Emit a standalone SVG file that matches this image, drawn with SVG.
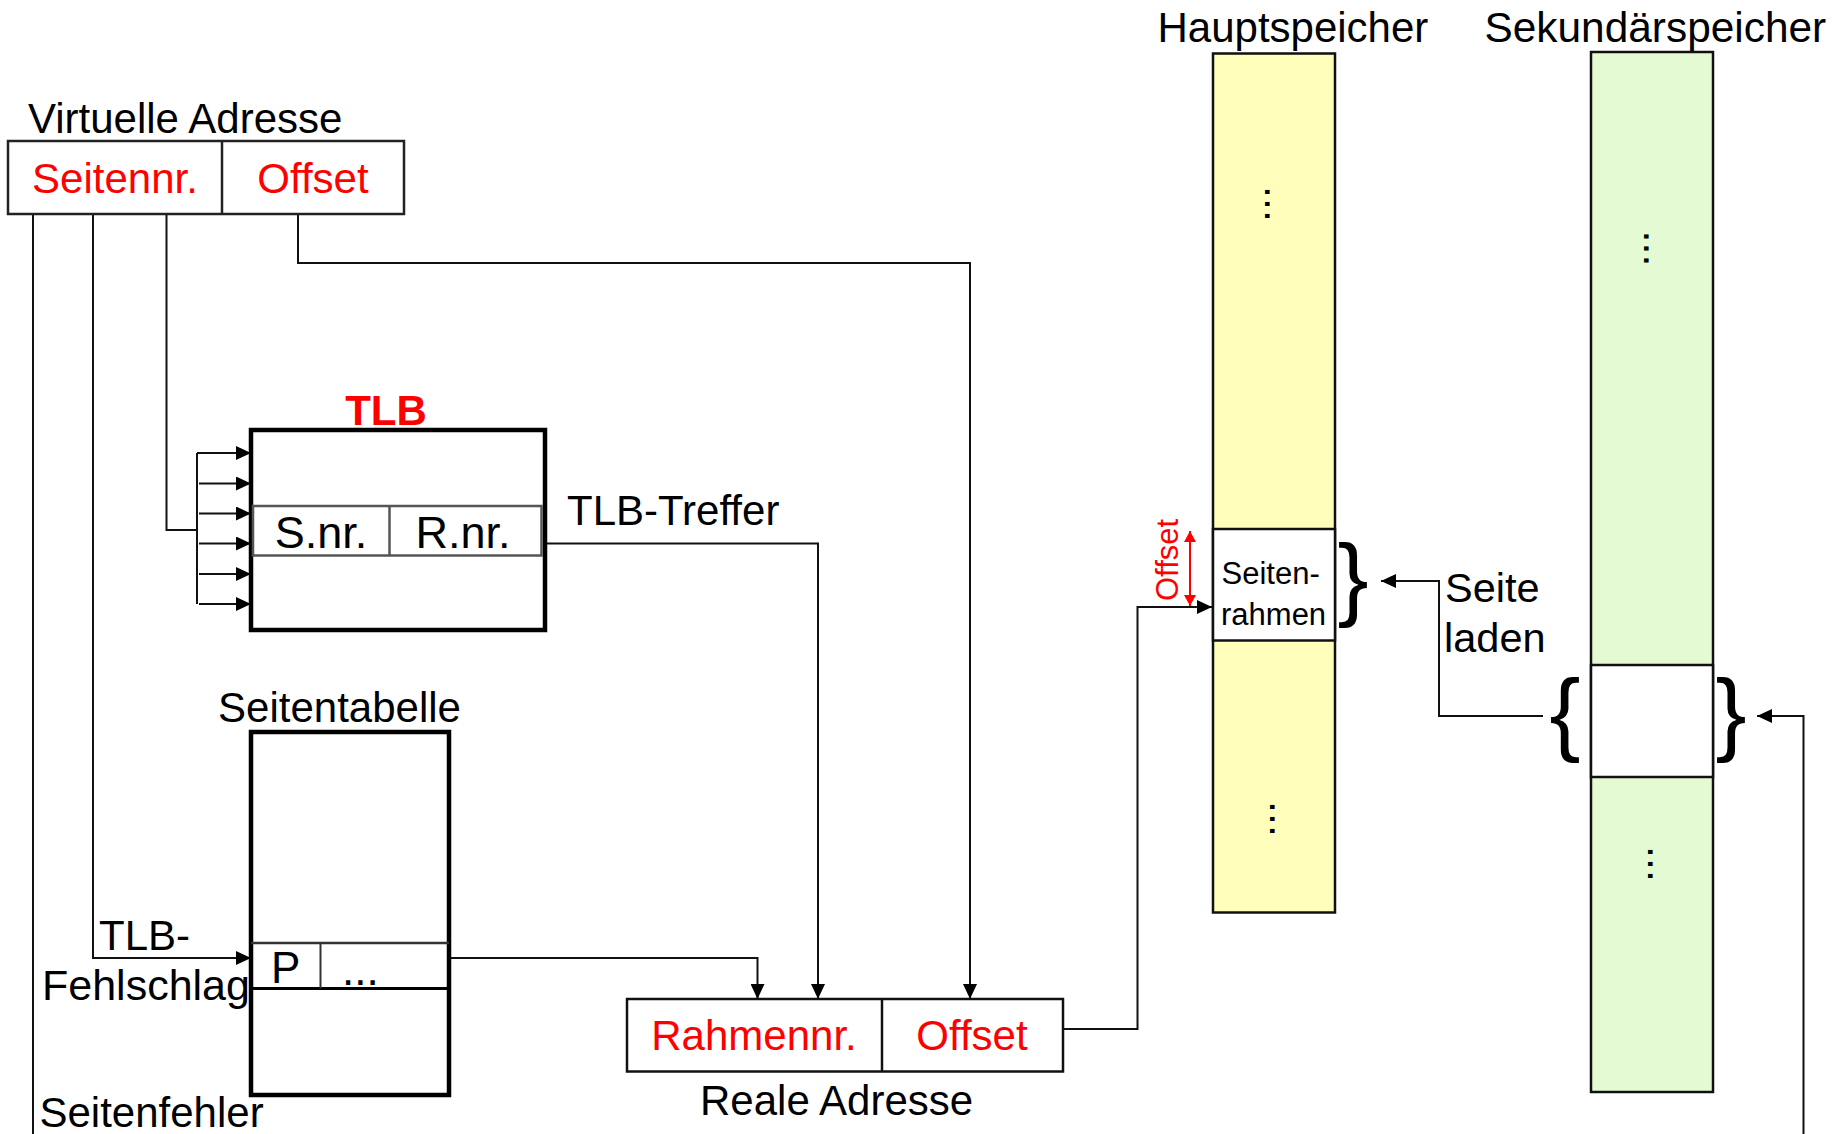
<svg xmlns="http://www.w3.org/2000/svg" width="1848" height="1134" viewBox="0 0 1848 1134">
<style>
text{font-family:"Liberation Sans",Arial,sans-serif;font-size:42px;fill:#000}
.red{fill:#ff0000}
.box{fill:#fff;stroke:#222;stroke-width:2.5}
.thick{fill:#fff;stroke:#000;stroke-width:4.5}
.cell{stroke:#555;stroke-width:2.5;fill:none}
.ln{fill:none;stroke:#111;stroke-width:2}
.arr{fill:none;stroke:#111;stroke-width:2;marker-end:url(#ah)}
.dots{font-size:43px}
.brace{font-size:93px}
</style>
<defs>
<marker id="ah" markerUnits="userSpaceOnUse" markerWidth="16" markerHeight="14" refX="15" refY="7" orient="auto">
<path d="M0,0 L15,7 L0,14 z" fill="#000"/>
</marker>
<marker id="rah" markerUnits="userSpaceOnUse" markerWidth="12" markerHeight="12" refX="11" refY="6" orient="auto-start-reverse">
<path d="M0,0 L11,6 L0,12 z" fill="#ff0000"/>
</marker>
</defs>
<rect width="1848" height="1134" fill="#fff"/>

<g id="connectors">
<path class="ln" d="M33,214 V1134"/>
<path class="arr" d="M93,214 V958 H251"/>
<path class="ln" d="M166.5,214 V530 H197"/>
<path class="ln" d="M197,453 V604"/>
<path class="arr" d="M197,453 H251"/>
<path class="arr" d="M199,483.5 H251"/>
<path class="arr" d="M199,513.5 H251"/>
<path class="arr" d="M199,543.5 H251"/>
<path class="arr" d="M199,574 H251"/>
<path class="arr" d="M199,604 H251"/>
<path class="arr" d="M298,214 V263 H970 V999"/>
<path class="arr" d="M545,543.5 H818 V999"/>
<path class="arr" d="M449,958 H757.5 V999"/>
<path class="arr" d="M1063,1029 H1137.5 V607 H1212"/>
<path class="arr" d="M1543,716 H1439 V581 H1381"/>
<path class="arr" d="M1803.5,1134 V716 H1757"/>
<path d="M1190,531 V606" fill="none" stroke="#ff0000" stroke-width="2" marker-start="url(#rah)" marker-end="url(#rah)"/>
<text x="567" y="525">TLB-Treffer</text>
<text x="99" y="950">TLB-</text>
<text x="42" y="1000" style="font-size:43px">Fehlschlag</text>
<text x="39.5" y="1127">Seitenfehler</text>
<text x="1445" y="601.5" style="font-size:41.5px">Seite</text>
<text x="1444" y="651.5" style="font-size:41.5px">laden</text>
<text class="red" transform="translate(1178,601) rotate(-90)" style="font-size:31px">Offset</text>
</g>

<g id="virtuelle-adresse">
<text x="28" y="133">Virtuelle Adresse</text>
<rect class="box" x="8" y="141" width="396" height="73"/>
<line class="cell" x1="222" y1="141" x2="222" y2="214" style="stroke:#222"/>
<text class="red" x="115" y="193" text-anchor="middle">Seitennr.</text>
<text class="red" x="313" y="193" text-anchor="middle">Offset</text>
</g>

<g id="tlb">
<text x="386" y="425" text-anchor="middle" class="red" style="font-weight:bold">TLB</text>
<rect class="thick" x="251" y="430" width="294" height="200"/>
<rect class="cell" x="253" y="506" width="288.5" height="49.5"/>
<line class="cell" x1="389.5" y1="506" x2="389.5" y2="555.5"/>
<text x="321" y="548" text-anchor="middle" style="font-size:45px">S.nr.</text>
<text x="463" y="548" text-anchor="middle" style="font-size:45px">R.nr.</text>
</g>

<g id="seitentabelle">
<text x="339.5" y="721.5" text-anchor="middle">Seitentabelle</text>
<rect class="thick" x="251" y="732" width="198" height="363"/>
<line x1="251" y1="943" x2="449" y2="943" stroke="#333" stroke-width="2.5"/>
<line x1="251" y1="988.5" x2="449" y2="988.5" stroke="#000" stroke-width="3"/>
<line x1="320.5" y1="943" x2="320.5" y2="988.5" stroke="#333" stroke-width="2"/>
<text x="271" y="983" style="font-size:44px">P</text>
<text x="342" y="985" style="font-size:44px">...</text>
</g>

<g id="reale-adresse">
<rect class="box" x="627" y="999" width="436" height="72.5" style="stroke:#111"/>
<line x1="882" y1="999" x2="882" y2="1071.5" stroke="#111" stroke-width="2.5"/>
<text class="red" x="754" y="1050" text-anchor="middle">Rahmennr.</text>
<text class="red" x="972" y="1050" text-anchor="middle">Offset</text>
<text x="700" y="1115">Reale Adresse</text>
</g>

<g id="hauptspeicher">
<text x="1157.5" y="42">Hauptspeicher</text>
<rect x="1213" y="53.5" width="122" height="859" fill="#ffffbb" stroke="#111" stroke-width="2.5"/>
<rect x="1213" y="529" width="122" height="111.5" fill="#fff" stroke="#111" stroke-width="2.5"/>
<text class="dots" transform="translate(1265.4,186) rotate(90)">...</text>
<text class="dots" transform="translate(1269.6,801) rotate(90)">...</text>
<text x="1221.5" y="583.5" style="font-size:31px">Seiten-</text>
<text x="1221" y="625" style="font-size:31px">rahmen</text>
<text class="brace" x="1353" y="608.5" text-anchor="middle">}</text>
</g>

<g id="sekundaerspeicher">
<text x="1484.5" y="42" style="font-size:42.4px">Sekundärspeicher</text>
<rect x="1591" y="52" width="122" height="1040" fill="#e4fad3" stroke="#111" stroke-width="2.5"/>
<rect x="1591" y="665" width="122" height="112" fill="#fff" stroke="#111" stroke-width="2.5"/>
<text class="dots" transform="translate(1643.8,230.5) rotate(90)">...</text>
<text class="dots" transform="translate(1647.8,846) rotate(90)">...</text>
<text class="brace" x="1565" y="744" text-anchor="middle">{</text>
<text class="brace" x="1731" y="744" text-anchor="middle">}</text>
</g>
</svg>
